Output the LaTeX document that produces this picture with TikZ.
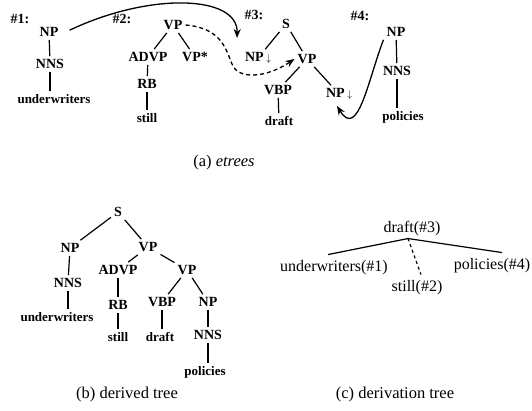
\documentclass[tikz,border=0pt]{standalone}
\usepackage{fontspec}
\setmainfont{Liberation Serif}
\usetikzlibrary{arrows.meta}
\newcommand{\dnarrow}{{\fontsize{10}{10}\selectfont$\downarrow$}}
\tikzset{
  lab/.style={font=\bfseries\fontsize{14}{15}\selectfont, inner sep=3pt},
  leaf/.style={font=\bfseries\fontsize{13}{14}\selectfont, inner sep=3pt},
  num/.style={font=\bfseries\fontsize{14}{15}\selectfont, inner sep=0pt},
  der/.style={font=\fontsize{16}{17}\selectfont, inner sep=2pt},
  capt/.style={font=\fontsize{16.5}{17}\selectfont, inner sep=0pt},
  edge/.style={line width=1.2pt},
  subst/.style={line width=1.3pt, -{Stealth[open,length=9pt,width=7pt]}},
  adj/.style={line width=1.3pt, dash pattern=on 4pt off 3pt, -{Stealth[open,length=9pt,width=7pt]}}
}
\begin{document}
\begin{tikzpicture}[x=1pt,y=-1pt]
\useasboundingbox (0,0) rectangle (532,410);
% ---------- (a) etrees ----------
\node[num] (h1) at (20,19) {\#1:};
\node[lab] (a1np) at (49,32) {NP};
\node[lab] (a1nns) at (50,64) {NNS};
\node[leaf] (a1w) at (54,99) {underwriters};
\draw[edge] (a1np) -- (a1nns);
\draw[edge] (a1nns) -- (a1nns |- a1w.north);

\node[num] (h2) at (122,19) {\#2:};
\node[lab] (a2vp) at (173,25) {VP};
\node[lab] (a2advp) at (148,57) {ADVP};
\node[lab] (a2vps) at (195,57) {VP*};
\node[lab] (a2rb) at (147,84) {RB};
\node[leaf] (a2still) at (147,118) {still};
\draw[edge] (a2vp) -- (a2advp);
\draw[edge] (a2vp) -- (a2vps);
\draw[edge] (a2advp) -- (a2rb);
\draw[edge] (a2rb) -- (a2still);

\node[num] (h3) at (254,15) {\#3:};
\node[lab] (a3s) at (286,24) {S};
\node[lab] (a3np) at (258,58) {NP\,\dnarrow};
\node[lab] (a3vp) at (307,59) {VP};
\node[lab] (a3vbp) at (278,90) {VBP};
\node[lab] (a3np2) at (339,94) {NP\,\dnarrow};
\node[leaf] (a3draft) at (279,121) {draft};
\draw[edge] (a3s) -- (a3np);
\draw[edge] (a3s) -- (a3vp);
\draw[edge] (a3vp) -- (a3vbp);
\draw[edge] (a3vp) -- (a3np2);
\draw[edge] (a3vbp) -- (a3draft);

\node[num] (h4) at (360,16) {\#4:};
\node[lab] (a4np) at (396,32) {NP};
\node[lab] (a4nns) at (397,71) {NNS};
\node[leaf] (a4pol) at (403,117) {policies};
\draw[edge] (a4np) -- (a4nns);
\draw[edge] (a4nns) -- (a4nns |- a4pol.north);

\coordinate (e1) at (237,38);
\coordinate (e3) at (337,106);
\draw[subst] ([shift={(8,6)}]a1np.north east) .. controls (150,-8) and (238,-5) .. (e1);
\draw[adj] (a2vp.east) .. controls (222,28) and (226,50) .. (232,64)
   .. controls (238,80) and (266,78) .. (a3vp.west);
\draw[subst] (a4np.south west) .. controls (368,80) and (358,140) .. (e3);

\node[capt] (capa) at (224,163) {(a) \textit{etrees}};

% ---------- (b) derived tree ----------
\node[lab] (bs) at (118,212) {S};
\node[lab] (bnp) at (70,248) {NP};
\node[lab] (bvp) at (148,247) {VP};
\node[lab] (bnns) at (68,283) {NNS};
\node[leaf] (buw) at (57,317) {underwriters};
\node[lab] (badvp) at (118,270) {ADVP};
\node[lab] (bvp2) at (187,270) {VP};
\node[lab] (brb) at (118,305) {RB};
\node[leaf] (bstill) at (118,337) {still};
\node[lab] (bvbp) at (162,302) {VBP};
\node[lab] (bnp2) at (208,302) {NP};
\node[leaf] (bdraft) at (160,337) {draft};
\node[lab] (bnns2) at (208,335) {NNS};
\node[leaf] (bpol) at (205,372) {policies};
\draw[edge] (bs) -- (bnp);
\draw[edge] (bs) -- (bvp);
\draw[edge] (bnp) -- (bnns);
\draw[edge] (bnns) -- (bnns |- buw.north);
\draw[edge] (bvp) -- (badvp);
\draw[edge] (bvp) -- (bvp2);
\draw[edge] (badvp) -- (brb);
\draw[edge] (brb) -- (bstill);
\draw[edge] (bvp2) -- (bvbp);
\draw[edge] (bvp2) -- (bnp2);
\draw[edge] (bvbp) -- (bvbp |- bdraft.north);
\draw[edge] (bnp2) -- (bnns2);
\draw[edge] (bnns2) -- (bnns2 |- bpol.north);

\node[capt] (capb) at (127,395) {(b) derived tree};

% ---------- (c) derivation tree ----------
\node[der] (cdraft) at (412,229) {draft(\#3)};
\node[der] (cuw) at (334,268) {underwriters(\#1)};
\node[der] (cpol) at (492,266) {policies(\#4)};
\node[der] (cstill) at (417,288) {still(\#2)};
\draw[edge] (cdraft.south) ++(-4,0) coordinate (cr) -- ([shift={(-6,-4)}]cuw.north);
\draw[edge] (cr) -- ([shift={(10,-4)}]cpol.north);
\draw[edge, dash pattern=on 3pt off 3pt] (cr) -- ([shift={(4,-4)}]cstill.north);

\node[capt] (capc) at (395,395) {(c) derivation tree};
\end{tikzpicture}
\end{document}
